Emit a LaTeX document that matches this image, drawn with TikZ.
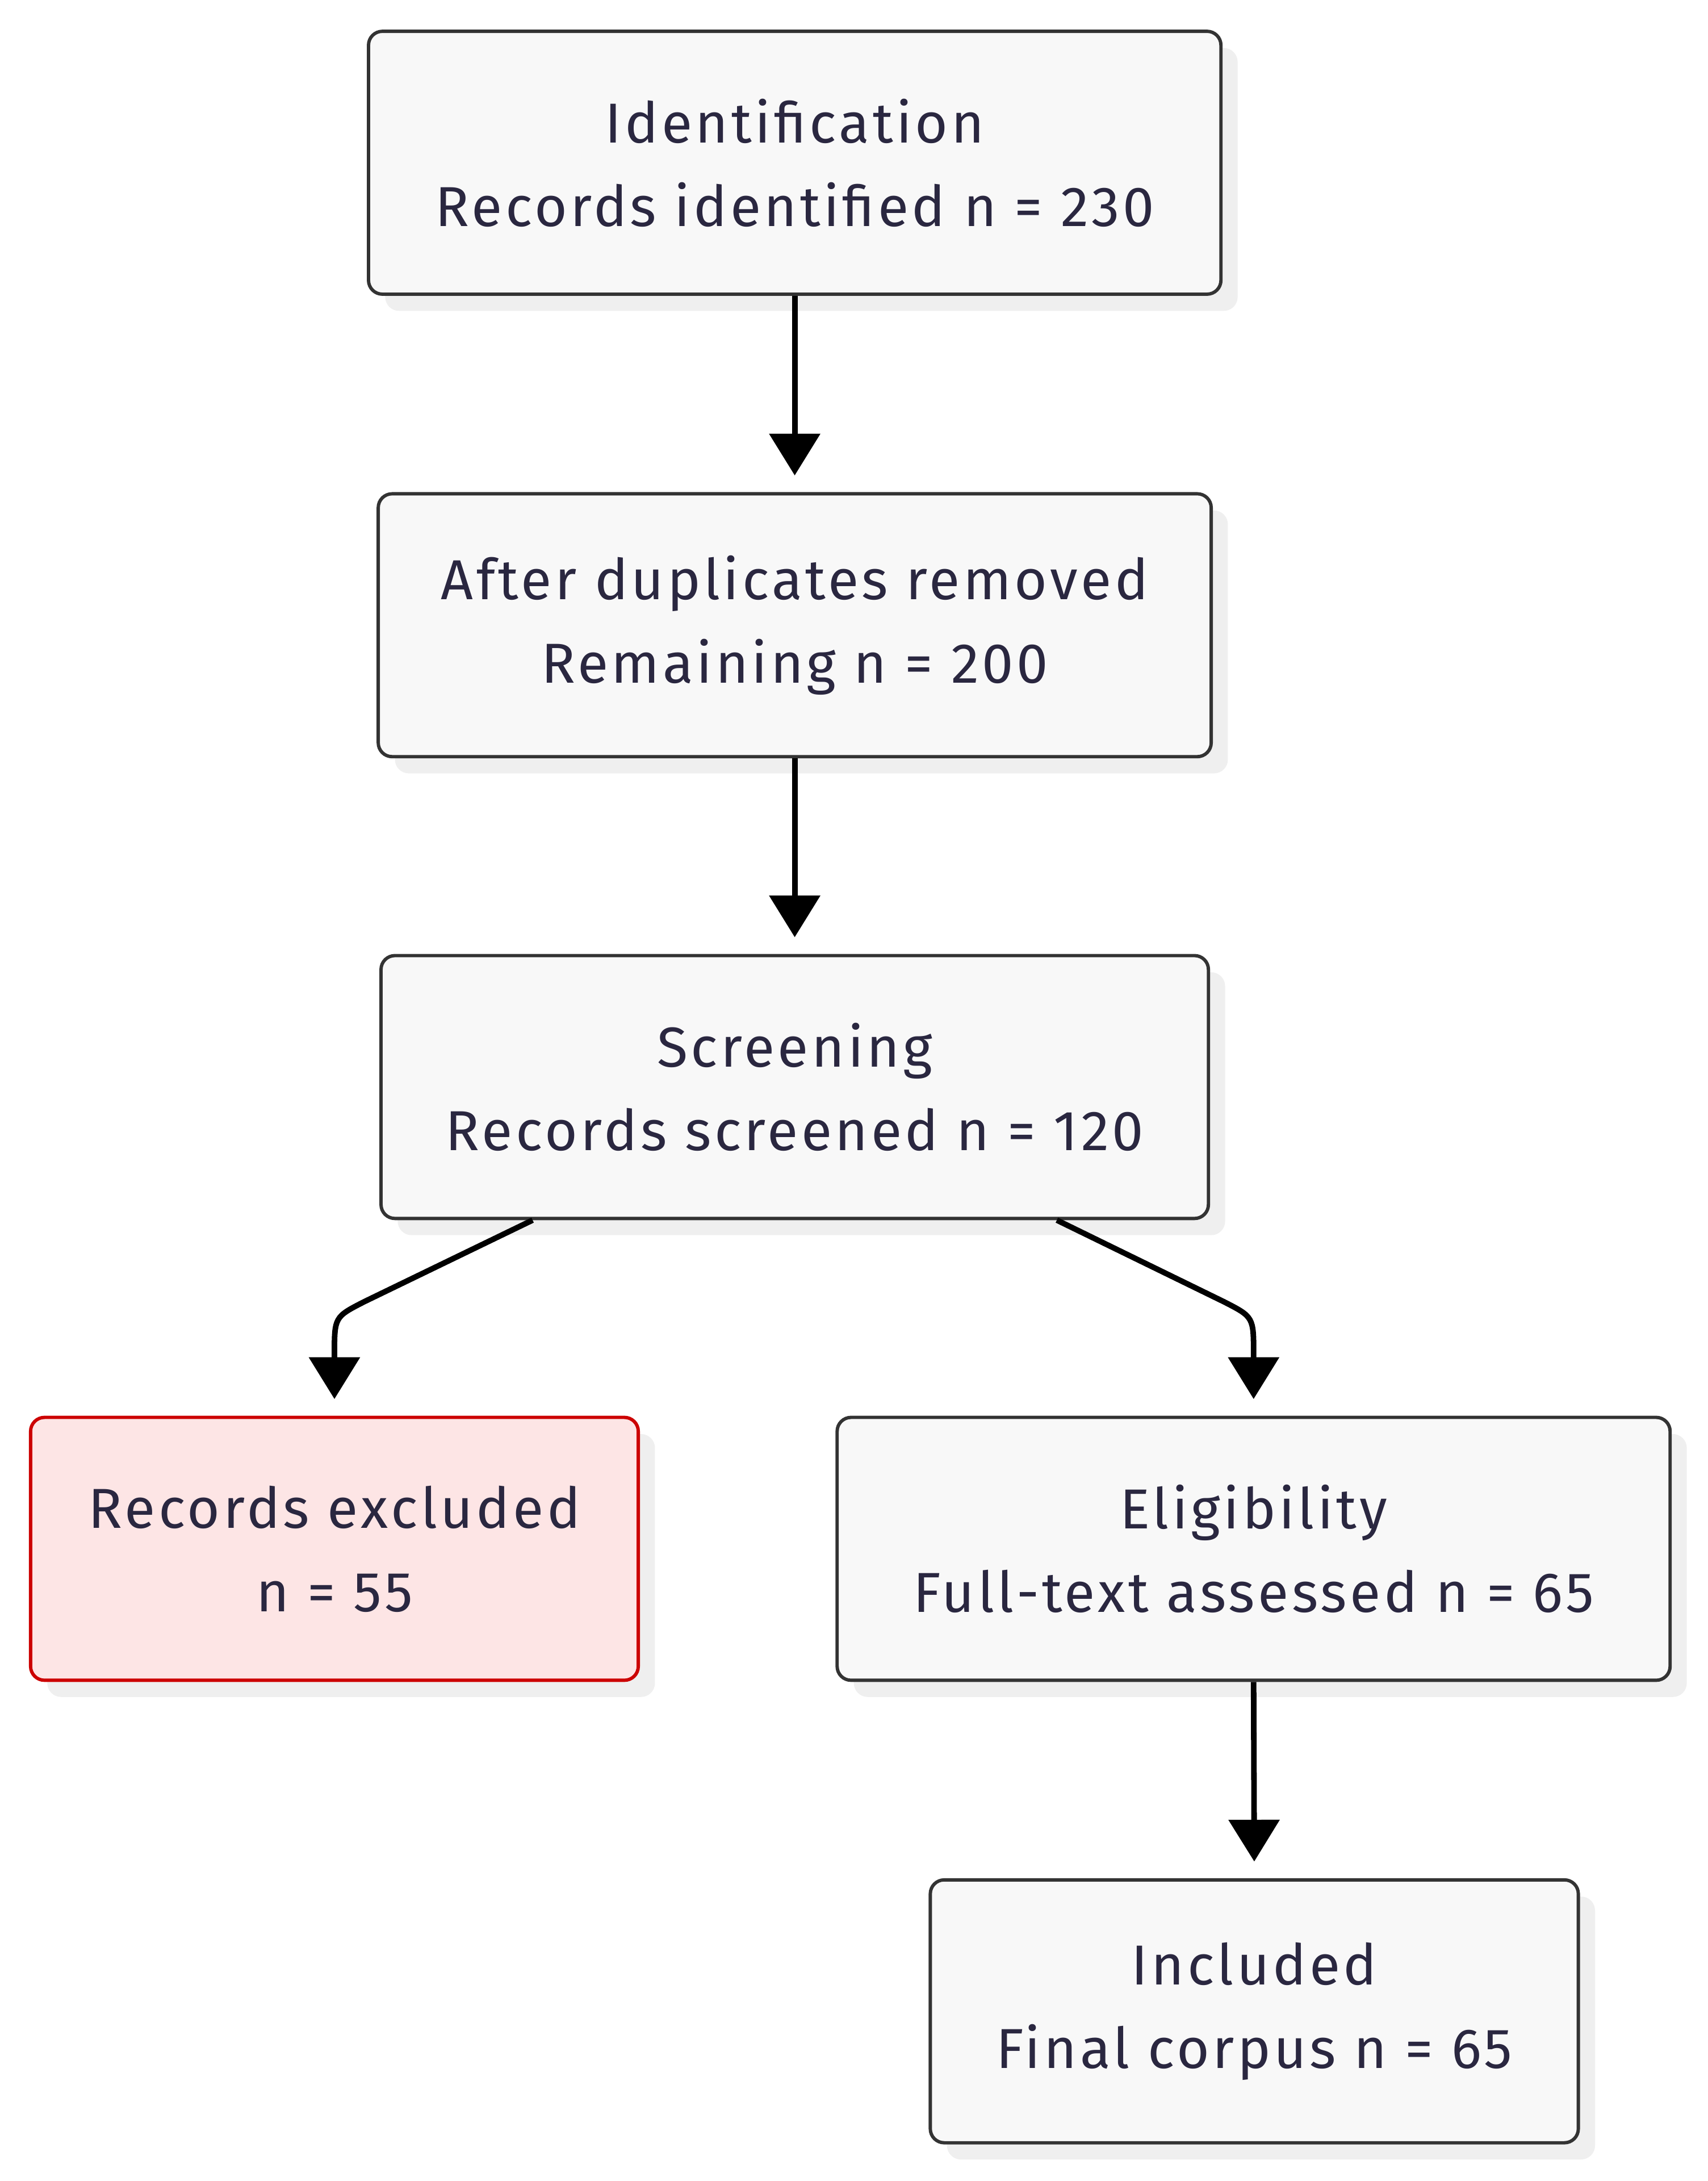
\documentclass[tikz,border=0pt]{standalone}
\usepackage{fontspec}
\setmainfont{Fira Sans}[LetterSpace=5.5]
\usetikzlibrary{arrows.meta,shadows,calc}
\definecolor{txt}{HTML}{2A2740}
\definecolor{bfill}{HTML}{F8F8F8}
\definecolor{bdraw}{HTML}{333333}
\definecolor{rfill}{HTML}{FDE5E5}
\definecolor{rdraw}{HTML}{CC0000}
\definecolor{shd}{HTML}{EFEFEF}
\tikzset{
  box/.style={draw=bdraw, fill=bfill, line width=2.4pt, rounded corners=10pt,
    minimum height=189pt, text=txt, align=center, inner sep=0pt,
    font=\fontsize{40.5}{60}\selectfont,
    drop shadow={shadow xshift=12pt, shadow yshift=-12pt, fill=shd, opacity=1}},
  redbox/.style={box, draw=rdraw, fill=rfill},
  conn/.style={line width=4pt, black, -{Triangle[width=36pt,length=30pt]}, shorten >=12pt}
}
\begin{document}
\begin{tikzpicture}[x=1pt,y=-1pt]
\fill[white] (0,0) rectangle (1228,1568);
\useasboundingbox (0,0) rectangle (1228,1568);
\node[box, minimum width=613pt] (a) at (571.5,117) {Identification\\Records identified n = 230};
\node[box, minimum width=599pt] (b) at (571.5,449.5) {After duplicates removed\\Remaining n = 200};
\node[box, minimum width=595pt] (c) at (571.5,781.5) {Screening\\Records screened n = 120};
\node[redbox, minimum width=437pt] (d) at (240.5,1113.5) {Records excluded\\n = 55};
\node[box, minimum width=599pt] (e) at (901.5,1113.5) {Eligibility\\Full-text assessed n = 65};
\node[box, minimum width=466pt] (f) at (902,1446) {Included\\Final corpus n = 65};
\draw[conn] (a.south) -- (b.north);
\draw[conn] (b.south) -- (c.north);
\draw[conn] ($(c.south)+(-188.5,0)$) -- ($(d.north)+(21.5,-82)$) .. controls ($(d.north)+(0,-71)$) .. ($(d.north)+(0,-44)$) -- (d.north);
\draw[conn] ($(c.south)+(188.5,0)$) -- ($(e.north)+(-21.5,-82)$) .. controls ($(e.north)+(0,-71)$) .. ($(e.north)+(0,-44)$) -- (e.north);
\draw[conn] (e.south) -- (f.north);
\end{tikzpicture}
\end{document}
